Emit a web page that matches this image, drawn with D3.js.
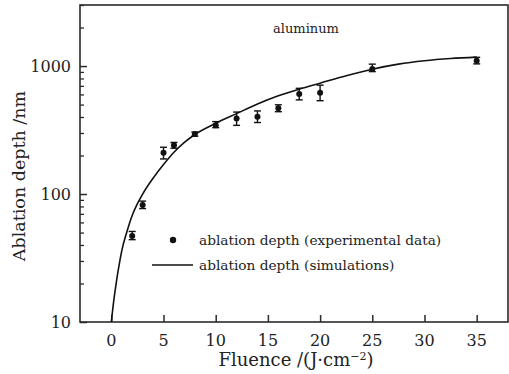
<!DOCTYPE html>
<html>
<head>
<meta charset="utf-8">
<script src="https://cdn.jsdelivr.net/npm/d3@7"></script>
<style>
  body { margin: 0; background: #fff; }
  svg text { font-family: "DejaVu Serif", "Liberation Serif", serif; fill: #222; }
</style>
</head>
<body>
<div id="chartArea"></div>
<script>
// experimental points: fluence, depth, error low, error high
const expFluence = [2, 3, 5, 6, 8, 10, 12, 14, 16, 18, 20, 25, 35];
const expDepth   = [47, 82, 210, 240, 294, 344, 390, 402, 468, 605, 618, 948, 1099];
const expLow     = [44, 77, 188, 228, 283, 330, 344, 362, 440, 544, 536, 905, 1040];
const expHigh    = [51, 88, 232, 253, 305, 368, 437, 446, 498, 670, 709, 1035, 1170];

// simulation curve
const simFluence = [0, 0.25, 0.5, 0.75, 1, 1.5, 2, 2.5, 3, 4, 5, 6, 7, 8, 10, 12, 14, 16, 18, 20, 22.5, 25, 27.5, 30, 32.5, 35];
const simDepth   = [10, 15, 21, 28, 36, 51, 68, 84, 100, 133, 170, 212, 253, 292, 357, 425, 505, 585, 660, 735, 840, 945, 1035, 1100, 1145, 1175];

const xTicks = [0, 5, 10, 15, 20, 25, 30, 35];
const yTicks = [10, 100, 1000];

const W = 509, H = 374;
const pLeft = 80, pRight = 508, pTop = 5, pBottom = 322;
const dark = "#2b2b2b";

const svg = d3.select("#chartArea").append("svg")
  .attr("width", W)
  .attr("height", H);

const x = d3.scaleLinear().domain([-3, 38]).range([pLeft, pRight]);
const y = d3.scaleLog().domain([10, 3000]).range([pBottom, pTop]);

// minor ticks 2..9 per decade
const minor = [];
[10, 100, 1000].forEach(d => {
  for (let k = 2; k <= 9; k++) if (d * k <= 3000) minor.push(d * k);
});

svg.append("g")
  .attr("transform", `translate(${pLeft},0)`)
  .call(d3.axisRight(y).tickValues(minor).tickSize(4).tickFormat(""))
  .call(g => g.select(".domain").remove())
  .call(g => g.selectAll("line").attr("stroke", dark).attr("stroke-width", 1.3));

svg.append("g")
  .attr("transform", `translate(${pLeft},0)`)
  .call(d3.axisRight(y).tickValues(yTicks).tickSize(7).tickFormat(""))
  .call(g => g.select(".domain").remove())
  .call(g => g.selectAll("line").attr("stroke", dark).attr("stroke-width", 1.5));

// y labels
svg.append("g").selectAll("text")
  .data(yTicks)
  .enter()
  .append("text")
    .attr("x", pLeft - 9)
    .attr("y", d => y(d) + 6)
    .attr("text-anchor", "end")
    .attr("font-size", "16px")
    .text(d => d);

// x axis ticks (inside) and labels
svg.append("g")
  .attr("transform", `translate(0,${pBottom})`)
  .call(d3.axisTop(x).tickValues(xTicks).tickSize(7).tickFormat(""))
  .call(g => g.select(".domain").remove())
  .call(g => g.selectAll("line").attr("stroke", dark).attr("stroke-width", 1.5));

svg.append("g").selectAll("text")
  .data(xTicks)
  .enter()
  .append("text")
    .attr("x", d => x(d))
    .attr("y", pBottom + 24)
    .attr("text-anchor", "middle")
    .attr("font-size", "16px")
    .text(d => d);

// frame
svg.append("rect")
  .attr("x", pLeft)
  .attr("y", pTop)
  .attr("width", pRight - pLeft)
  .attr("height", pBottom - pTop)
  .attr("fill", "none")
  .attr("stroke", dark)
  .attr("stroke-width", 1.6);

// simulation curve
const line = d3.line()
  .x((d, i) => x(simFluence[i]))
  .y(d => y(d))
  .curve(d3.curveMonotoneX);

svg.append("path")
  .datum(simDepth)
  .attr("d", line)
  .attr("fill", "none")
  .attr("stroke", "#111")
  .attr("stroke-width", 1.6);

// error bars
const bars = svg.append("g").selectAll("g")
  .data(expFluence)
  .enter()
  .append("g")
  .attr("stroke", "#111")
  .attr("stroke-width", 1.4);

bars.append("line")
  .attr("x1", d => x(d)).attr("x2", d => x(d))
  .attr("y1", (d, i) => y(expLow[i]))
  .attr("y2", (d, i) => y(expHigh[i]));
bars.append("line")
  .attr("x1", d => x(d) - 3.5).attr("x2", d => x(d) + 3.5)
  .attr("y1", (d, i) => y(expLow[i]))
  .attr("y2", (d, i) => y(expLow[i]));
bars.append("line")
  .attr("x1", d => x(d) - 3.5).attr("x2", d => x(d) + 3.5)
  .attr("y1", (d, i) => y(expHigh[i]))
  .attr("y2", (d, i) => y(expHigh[i]));

svg.append("g").selectAll("circle")
  .data(expFluence)
  .enter()
  .append("circle")
    .attr("cx", d => x(d))
    .attr("cy", (d, i) => y(expDepth[i]))
    .attr("r", 3)
    .attr("fill", "#111");

// legend
svg.append("circle")
  .attr("cx", 173).attr("cy", 240).attr("r", 3.2).attr("fill", "#111");
svg.append("text")
  .attr("x", 199).attr("y", 245)
  .attr("font-size", "13.7px")
  .text("ablation depth (experimental data)");
svg.append("line")
  .attr("x1", 152).attr("x2", 193)
  .attr("y1", 265).attr("y2", 265)
  .attr("stroke", "#111").attr("stroke-width", 1.6);
svg.append("text")
  .attr("x", 199).attr("y", 270)
  .attr("font-size", "13.7px")
  .text("ablation depth (simulations)");

svg.append("text")
  .attr("x", 306).attr("y", 33)
  .attr("text-anchor", "middle")
  .attr("font-size", "13px")
  .text("aluminum");

// axis titles
svg.append("text")
  .attr("x", 296).attr("y", 366)
  .attr("text-anchor", "middle")
  .attr("font-size", "18px")
  .html('Fluence /(J\u00b7cm<tspan dy="-6" font-size="11px">\u22122</tspan><tspan dy="6">)</tspan>');

svg.append("text")
  .attr("transform", "translate(25,176) rotate(-90)")
  .attr("text-anchor", "middle")
  .attr("font-size", "17.5px")
  .text("Ablation depth /nm");
</script>
</body>
</html>
